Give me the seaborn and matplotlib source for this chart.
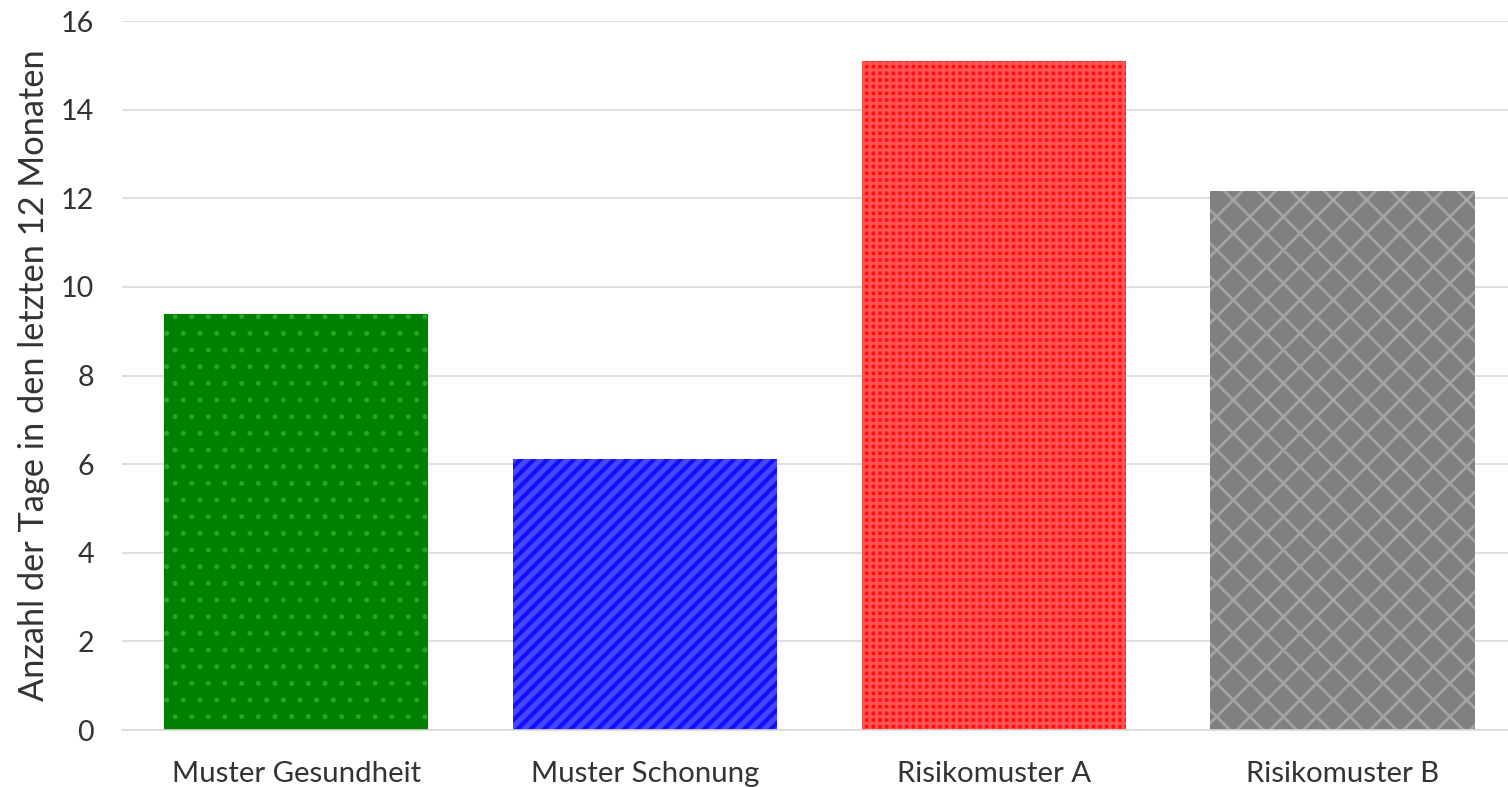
import pandas as pd
import matplotlib
matplotlib.use('Agg')
import matplotlib.pyplot as plt
import seaborn as sns

# Data
categories = ['Muster Gesundheit', 'Muster Schonung', 'Risikomuster A', 'Risikomuster B']
values = [9.39, 6.12, 15.10, 12.16]
fill_colors = ['#008000', '#1010ff', '#ff0f0f', '#808080']
hatch_colors = ['#22a822', '#4646ff', '#ff5252', '#a3a3a3']
hatches = ['..', '/////', '+++++', 'xx']
hatch_widths = [0.6, 1.9, 1.1, 1.0]

df = pd.DataFrame({'Muster': categories, 'Tage': values})

sns.set_theme(style='white')
plt.rcParams['font.family'] = ['Lato', 'DejaVu Sans']

# large dpi so hatches come out as coarse as in the reference
fig = plt.figure(figsize=(7.54, 3.935), dpi=200)
ax = fig.add_axes([0.0809, 0.0724, 0.9191, 0.9009])

sns.barplot(data=df, x='Muster', y='Tage', hue='Muster', palette=fill_colors,
            saturation=1, width=0.758, legend=False, ax=ax)

for p, hc, h, hw in zip(ax.patches, hatch_colors, hatches, hatch_widths):
    p.set_hatch(h)
    p.set_edgecolor(hc)
    p.set_linewidth(0)
    if hasattr(p, 'set_hatch_linewidth'):
        p.set_hatch_linewidth(hw)
    else:
        p._hatch_linewidth = hw

ax.set_ylim(0, 16)
ax.set_xlim(-0.5, 3.475)
ax.set_yticks(range(0, 17, 2))
ax.grid(axis='y', color='#d9d9d9', linewidth=0.6)
ax.set_axisbelow(True)
for s in ['top', 'right', 'left']:
    ax.spines[s].set_visible(False)
ax.spines['bottom'].set_color('#d9d9d9')
ax.spines['bottom'].set_linewidth(0.6)

ax.tick_params(axis='y', length=0, pad=10, labelsize=10.3, labelcolor='#333333')
ax.tick_params(axis='x', length=0, pad=11, labelsize=10.6, labelcolor='#333333')
ax.set_xlabel('')
ax.set_ylabel('Anzahl der Tage in den letzten 12 Monaten', fontsize=12.4, color='#333333', labelpad=4)

fig.savefig('out.png', dpi=200)
